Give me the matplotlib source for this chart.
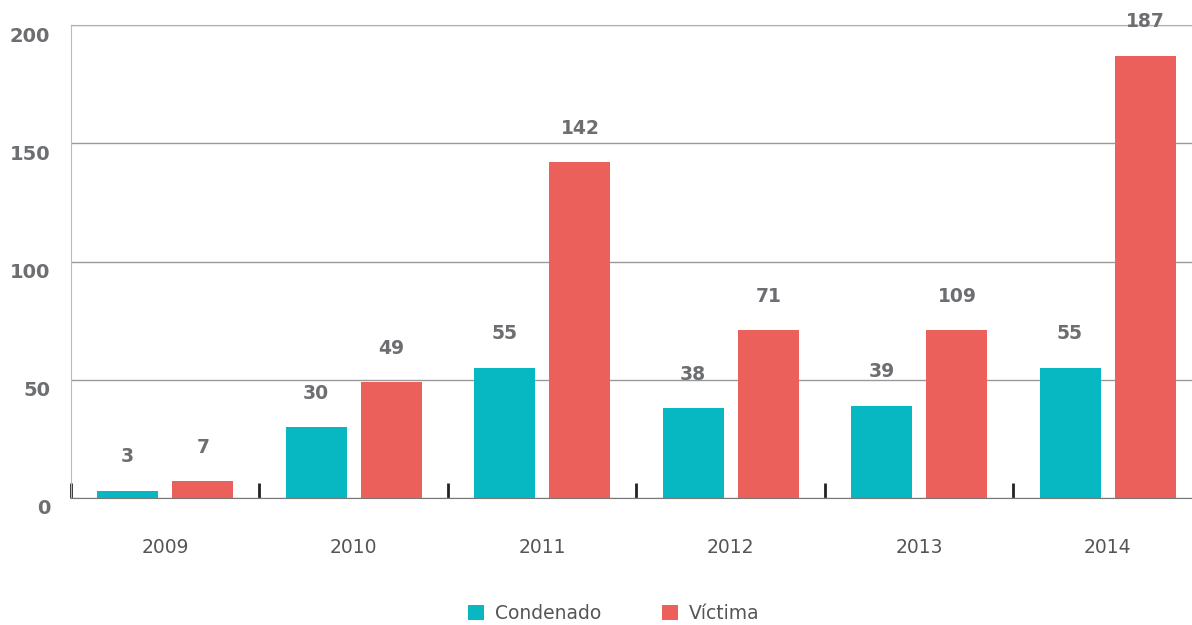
import matplotlib.pyplot as plt
from matplotlib.transforms import ScaledTranslation
from matplotlib.patches import Patch

years = ["2009", "2010", "2011", "2012", "2013", "2014"]
condenado = [3, 30, 55, 38, 39, 55]
victima = [7, 49, 142, 71, 71, 187]
condenado_labels = ["3", "30", "55", "38", "39", "55"]
victima_labels = ["7", "49", "142", "71", "109", "187"]
yticks = [0, 50, 100, 150, 200]

teal = "#07b8c2"
red = "#ec605b"
label_gray = "#6d6e71"

plt.rcParams["font.family"] = ["DejaVu Sans"]

fig = plt.figure(figsize=(11.92, 6.25), dpi=100)
ax = fig.add_axes([71 / 1192, 127 / 625, 1 - 71 / 1192, 473 / 625])

x = list(range(len(years)))
w = 0.324
xc = [i - 0.2 for i in x]
xv = [i + 0.2 for i in x]
ax.bar(xc, condenado, width=w, color=teal, zorder=3)
ax.bar(xv, victima, width=w, color=red, zorder=3)

for xi, v, lab in zip(xc, condenado, condenado_labels):
    ax.annotate(lab, (xi, v), xytext=(0, 24.5), textcoords="offset points",
                ha="center", va="center", fontsize=13.5, fontweight="bold", color=label_gray)
for xi, v, lab in zip(xv, victima, victima_labels):
    ax.annotate(lab, (xi, v), xytext=(0, 24.5), textcoords="offset points",
                ha="center", va="center", fontsize=13.5, fontweight="bold", color=label_gray)

ax.set_xlim(-0.5, 5.447)
ax.set_ylim(0, 200)

# grid
ax.set_yticks(yticks)
ax.yaxis.grid(True, color="#999999", linewidth=1, zorder=0)
ax.tick_params(axis="y", length=0, pad=15, labelsize=14, labelcolor=label_gray)
for lbl in ax.get_yticklabels():
    lbl.set_fontweight("bold")
    lbl.set_transform(lbl.get_transform() + ScaledTranslation(0, -0.09, fig.dpi_scale_trans))

ax.set_xticks(x)
ax.set_xticklabels(years)
ax.tick_params(axis="x", which="major", length=0, pad=29, labelsize=13.5, labelcolor="#555555")
ax.set_xticks([i - 0.5 for i in x], minor=True)
ax.tick_params(axis="x", which="minor", direction="in", length=11, width=2, color="#222222")

ax.spines["right"].set_visible(False)
ax.spines["top"].set_color("#b0b0b0")
ax.spines["left"].set_color("#bbbbbb")
ax.spines["bottom"].set_color("#777777")
ax.spines["bottom"].set_zorder(4)

handles = [Patch(facecolor=teal, label="Condenado"), Patch(facecolor=red, label="Víctima")]
fig.legend(handles=handles, loc="center", bbox_to_anchor=(0.515, 0.019), ncol=2,
           frameon=False, fontsize=13.5, labelcolor="#555555", handlelength=0.85,
           handleheight=0.85, handletextpad=0.6, columnspacing=3.2)

fig.savefig("out.png", dpi=100)
